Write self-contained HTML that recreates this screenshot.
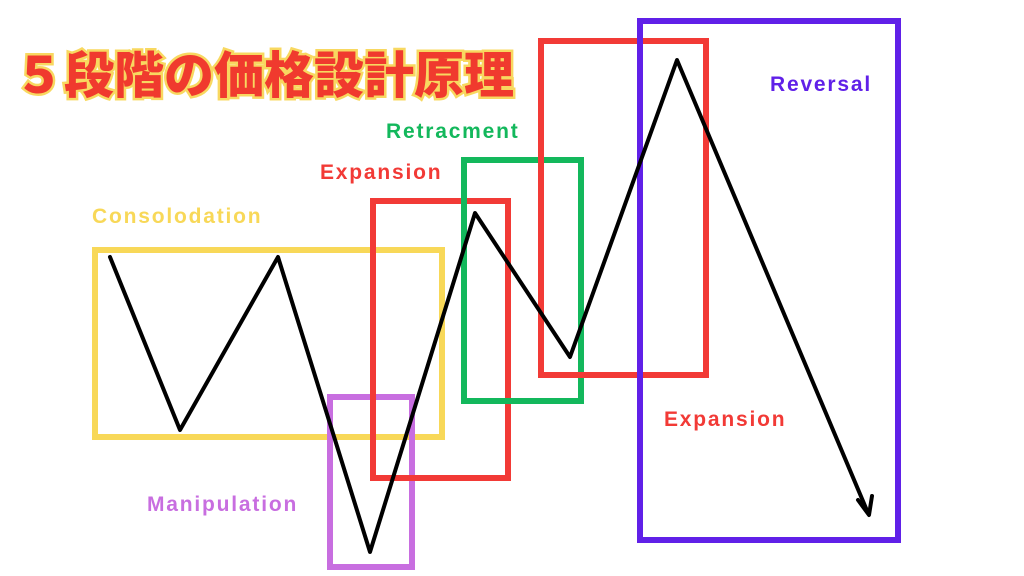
<!DOCTYPE html>
<html><head><meta charset="utf-8"><style>
html,body{margin:0;padding:0;background:#fff;}
svg{display:block}
</style></head><body>
<svg width="1024" height="576" viewBox="0 0 1024 576" xmlns="http://www.w3.org/2000/svg">
<rect width="1024" height="576" fill="#fff"/>
<text x="14" y="93" font-family="'Noto Sans CJK JP',sans-serif" font-weight="900" font-size="50" fill="#f03a2e" stroke="#f8d860" stroke-width="5" paint-order="stroke">５段階の価格設計原理</text>
<g fill="none" stroke-width="6">
<rect x="95" y="250" width="347" height="187" stroke="#f8d858"/>
<rect x="330" y="397" width="82" height="170" stroke="#c86ee0"/>
<rect x="373" y="201" width="135" height="277" stroke="#f23a36"/>
<rect x="464" y="160" width="117" height="241" stroke="#13b85c"/>
<rect x="541" y="41" width="165" height="334" stroke="#f23a36"/>
<rect x="640" y="21" width="258" height="519" stroke="#6020e8"/>
</g>
<polyline points="110,257 180,430 278,257 370,552 475,213 570,357 677,60 868,513" fill="none" stroke="#000" stroke-width="4" stroke-linejoin="round" stroke-linecap="round"/>
<polyline points="858,500 869,515 872,496" fill="none" stroke="#000" stroke-width="4" stroke-linecap="round" stroke-linejoin="round"/>
<g font-family="'Liberation Sans',sans-serif" font-weight="bold" font-size="21" letter-spacing="1.8">
<text x="92" y="223" fill="#f8d858">Consolodation</text>
<text x="147" y="511" fill="#c86ee0">Manipulation</text>
<text x="320" y="179" fill="#f23a36">Expansion</text>
<text x="386" y="138" fill="#13b85c">Retracment</text>
<text x="770" y="91" fill="#6020e8">Reversal</text>
<text x="664" y="426" fill="#f23a36">Expansion</text>
</g>
</svg>
</body></html>
